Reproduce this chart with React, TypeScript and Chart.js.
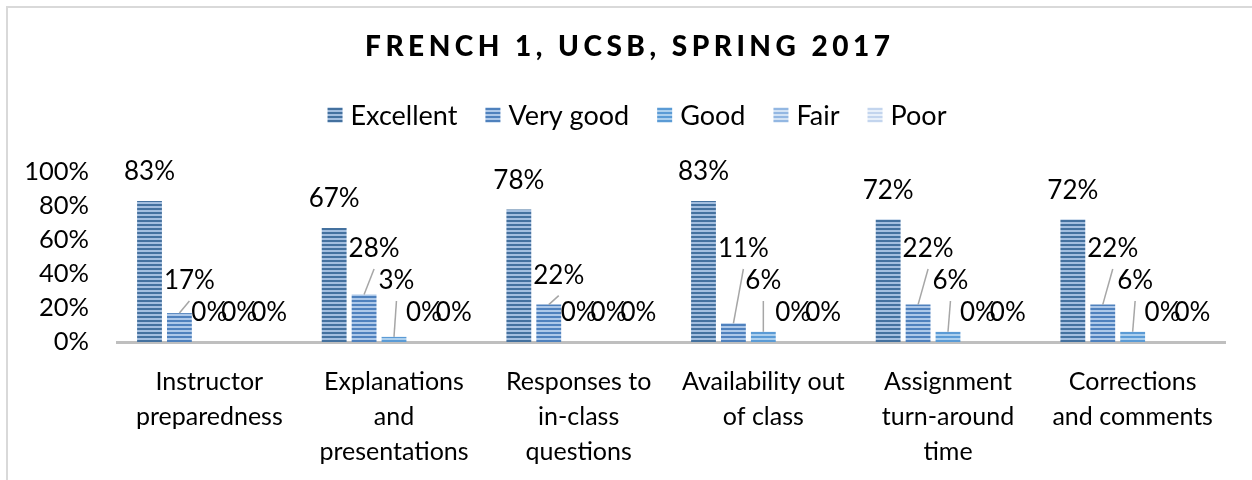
import React, { useEffect, useRef } from "react";
import { Chart, registerables } from "chart.js";

Chart.register(...registerables);

const title = "FRENCH 1, UCSB, SPRING 2017";
const categories = [
  ["Instructor", "preparedness"],
  ["Explanations", "and", "presentations"],
  ["Responses to", "in-class", "questions"],
  ["Availability out", "of class"],
  ["Assignment", "turn-around", "time"],
  ["Corrections", "and comments"],
];
const seriesNames = ["Excellent", "Very good", "Good", "Fair", "Poor"];
const excellent = [83, 67, 78, 83, 72, 72];
const veryGood = [17, 28, 22, 11, 22, 22];
const good = [0, 3, 0, 6, 6, 6];
const fair = [0, 0, 0, 0, 0, 0];
const poor = [0, 0, 0, 0, 0, 0];
const yTicks = [0, 20, 40, 60, 80, 100];

const darkColors = ["#44719f", "#4f81bd", "#5b9bd5", "#93b7e2", "#c3d5ee"];
const lightColors = ["#a3bedf", "#adc8e9", "#add0ee", "#d3e3f5", "#e8f0fa"];

const FONT = "Lato, 'Noto Sans', sans-serif";
const LABEL_SIZE = 26;

function makePattern(dark: string, light: string): CanvasPattern | string {
  const c = document.createElement("canvas");
  c.width = 4;
  c.height = 4;
  const g = c.getContext("2d");
  if (!g) return dark;
  g.fillStyle = light;
  g.fillRect(0, 0, 4, 4);
  g.fillStyle = dark;
  g.fillRect(0, 0, 4, 2);
  const ctx = document.createElement("canvas").getContext("2d");
  const p = ctx ? ctx.createPattern(c, "repeat") : null;
  return p || dark;
}

const framePlugin = {
  id: "frame",
  beforeDraw(chart: any) {
    const ctx = chart.ctx;
    ctx.save();
    ctx.fillStyle = "#ffffff";
    ctx.fillRect(0, 0, chart.width, chart.height);
    ctx.fillStyle = "#d9d9d9";
    ctx.fillRect(6, 6, chart.width - 6, 2);
    ctx.fillRect(6, 6, 2, chart.height - 6);
    ctx.restore();
  },
};

const titleLegendPlugin = {
  id: "titleLegend",
  afterDraw(chart: any) {
    const ctx = chart.ctx;
    ctx.save();
    // title
    ctx.font = `900 28px ${FONT}`;
    ctx.fillStyle = "#000000";
    ctx.textBaseline = "middle";
    ctx.textAlign = "left";
    const spacing = 4.5;
    (ctx as any).letterSpacing = `${spacing}px`;
    const tw = ctx.measureText(title).width - spacing;
    ctx.fillText(title, 627.5 - tw / 2, 47);
    (ctx as any).letterSpacing = "0px";

    // legend
    ctx.font = `27px ${FONT}`;
    const box = 15;
    const gapText = 8;
    const gapItem = 28;
    const widths = seriesNames.map((s) => box + gapText + ctx.measureText(s).width);
    const total = widths.reduce((a, b) => a + b, 0) + gapItem * (widths.length - 1);
    let x = 637 - total / 2;
    const yc = 115;
    const datasets = chart.data.datasets;
    seriesNames.forEach((s, i) => {
      ctx.fillStyle = datasets[i].backgroundColor;
      ctx.fillRect(x, yc - box / 2, box, box);
      ctx.fillStyle = "#000000";
      ctx.fillText(s, x + box + gapText, yc + 1);
      x += widths[i] + gapItem;
    });
    ctx.restore();
  },
};

const labelPlugin = {
  id: "barLabels",
  afterDatasetsDraw(chart: any) {
    const ctx = chart.ctx;
    ctx.save();
    ctx.font = `${LABEL_SIZE}px ${FONT}`;
    const n = chart.data.datasets.length;
    const count = chart.data.labels.length;
    for (let i = 0; i < count; i++) {
      const items: any[] = [];
      for (let d = 0; d < n; d++) {
        const el = chart.getDatasetMeta(d).data[i];
        const p = el.getProps(["x", "y", "width"], true);
        const v = chart.data.datasets[d].data[i];
        const text = `${v}%`;
        const w = ctx.measureText(text).width;
        items.push({
          v,
          text,
          w,
          cx: p.x,
          cy: p.y - 29,
          bx: p.x,
          by: p.y,
          right: p.x + p.width / 2,
        });
      }
      for (let d = 1; d < n; d++) {
        const it = items[d];
        const prev = items[d - 1];
        if (it.v === 0) continue;
        const l = it.cx - it.w / 2;
        if (l < prev.right && it.cy + 10 > prev.by) {
          it.cx = prev.right + 2 + it.w / 2;
        }
      }
      for (let d = n - 2; d >= 0; d--) {
        const it = items[d];
        if (it.v === 0) continue;
        let moved = true;
        let guard = 0;
        while (moved && guard < 10) {
          moved = false;
          guard++;
          for (let e = d + 1; e < n; e++) {
            const o = items[e];
            const h =
              it.cx - it.w / 2 - 3 < o.cx + o.w / 2 &&
              it.cx + it.w / 2 + 3 > o.cx - o.w / 2;
            const vv = Math.abs(it.cy - o.cy) < 32;
            if (h && vv) {
              it.cy = o.cy - 32;
              moved = true;
            }
          }
        }
      }
      ctx.strokeStyle = "#a6a6a6";
      ctx.lineWidth = 1.5;
      items.forEach((it) => {
        const ex = it.cx;
        const ey = it.cy + 20;
        if (ey < it.by - 2 && Math.hypot(ex - it.bx, ey - it.by) > 10) {
          ctx.beginPath();
          ctx.moveTo(it.bx, it.by);
          ctx.lineTo(ex, ey);
          ctx.stroke();
        }
      });
      ctx.fillStyle = "#000000";
      ctx.textAlign = "center";
      ctx.textBaseline = "middle";
      items.forEach((it) => {
        ctx.fillText(it.text, it.cx, it.cy);
      });
    }
    ctx.restore();
  },
};

export default function App() {
  const ref = useRef<HTMLCanvasElement | null>(null);
  useEffect(() => {
    if (!ref.current) return;
    const values = [excellent, veryGood, good, fair, poor];
    const chart = new Chart(ref.current, {
      type: "bar",
      data: {
        labels: categories,
        datasets: seriesNames.map((name, i) => ({
          label: name,
          data: values[i],
          backgroundColor: makePattern(darkColors[i], lightColors[i]) as any,
          borderWidth: 0,
          categoryPercentage: 0.81,
          barPercentage: 0.83,
        })),
      },
      options: {
        animation: false,
        responsive: true,
        maintainAspectRatio: false,
        layout: { padding: { left: 0, right: 27, top: 172, bottom: 0 } },
        plugins: {
          legend: { display: false },
          title: { display: false },
          tooltip: { enabled: false },
        },
        scales: {
          x: {
            grid: { display: false, drawTicks: false },
            border: { display: true, color: "#bfbfbf", width: 3 },
            ticks: {
              color: "#000000",
              padding: 22,
              maxRotation: 0,
              autoSkip: false,
              font: { family: FONT, size: 25, lineHeight: 35 / 25 },
            },
            afterFit: (s: any) => {
              s.height = 138;
            },
          },
          y: {
            min: 0,
            max: 100,
            grid: { display: false, drawTicks: false },
            border: { display: false },
            afterBuildTicks: (s: any) => {
              s.ticks = yTicks.map((v) => ({ value: v }));
            },
            ticks: {
              color: "#000000",
              padding: 28,
              font: { family: FONT, size: 25.5 },
              callback: (v: any) => `${v}%`,
            },
            afterFit: (s: any) => {
              s.width = 117;
            },
          },
        },
      },
      plugins: [framePlugin, labelPlugin, titleLegendPlugin],
    });
    return () => chart.destroy();
  }, []);
  return (
    <div style={{ position: "fixed", left: 0, top: 0, width: 1252, height: 480, background: "#fff" }}>
      <canvas ref={ref} />
    </div>
  );
}
